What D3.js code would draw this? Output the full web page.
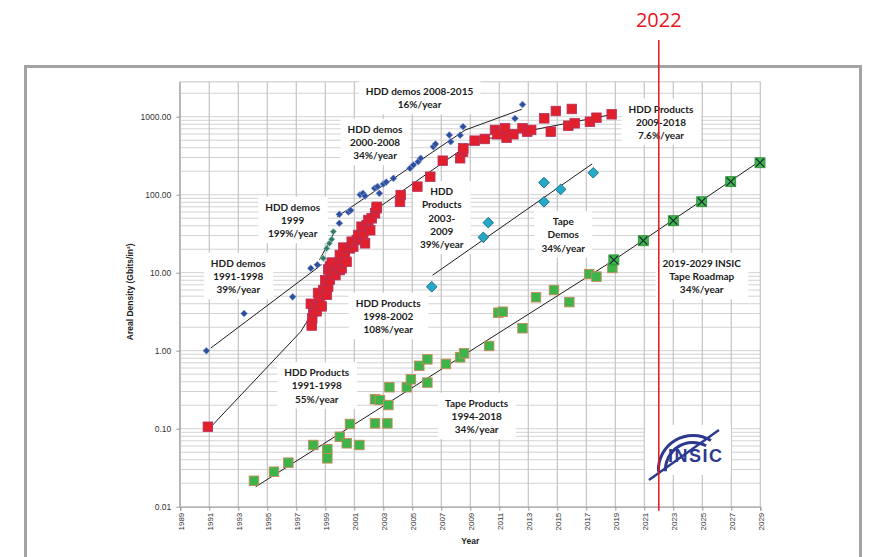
<!DOCTYPE html>
<html><head><meta charset="utf-8">
<script src="https://cdn.jsdelivr.net/npm/d3@7"></script>
<style>body{margin:0;background:#fff} svg{display:block}</style>
</head><body><svg id="c" width="869" height="557"></svg>
<script>
// ---------------- data ----------------
const xTickYears = d3.range(1989, 2030, 2);
const yTickValues = [0.01, 0.1, 1, 10, 100, 1000];
const yTickLabels = ["0.01", "0.10", "1.00", "10.00", "100.00", "1000.00"];
const markerYear = 2022;

const hddDemos = [[1990.8,1.0],[1993.4,3.0],[1996.75,4.9],[1998.0,11.4],[1998.45,12.6],[1999.97,43],[1999.97,56],
  [2000.6,60],[2000.75,63],[2001.4,100],[2001.6,104],[2001.74,96],[2002.4,121],[2002.6,127],[2002.73,104],[2003.0,137],
  [2003.2,145],[2003.7,162],[2004.84,218],[2005.07,240],[2005.4,265],[2005.58,293],[2006.45,412],[2006.6,447],
  [2007.55,582],[2007.65,479],[2008.3,580],[2008.5,745],[2012.08,950],[2012.6,1430]];
const hddDemos1999 = [[1998.86,15.3],[1999.1,20.5],[1999.28,23.8],[1999.44,26.8],[1999.55,33.6]];
const hddProducts = [[1990.9,0.106],
  [1998.06,2.1],[1998.1,2.6],[1998.17,3.2],[1998.0,4.0],[1998.3,3.7],[1998.4,3.2],[1998.6,4.7],[1998.75,3.7],
  [1998.5,5.5],[1998.86,6.0],[1999.1,5.2],[1999.2,6.6],[1999.0,8.0],[1999.3,8.1],[1999.4,9.4],[1999.2,11],
  [1999.32,12],[1999.55,10.8],[1999.7,9.3],[1999.44,13.5],[2000.0,10.8],[2000.13,11.4],[1999.9,13.2],[2000.1,14.6],
  [2000.0,16.9],[2000.36,17.7],[2000.24,21],[2000.7,20.5],[2000.93,21.6],[2000.82,25],[2001.17,26.3],[2001.39,27.6],
  [2001.28,30.4],[2001.62,32],[2001.5,38.9],[2001.85,40.9],[2001.97,47.4],[2002.2,49.8],[2002.43,57.7],[2002.54,66.9],
  [2002.1,35],[2001.74,23.8],[2000.47,13.8],
  [2002.55,70],[2004.15,81],[2004.2,99],[2005.35,127],[2006.24,170],[2007.1,273],[2008.3,293],[2008.5,356],
  [2008.52,393],[2009.3,493],[2010.0,518],[2010.7,676],[2010.86,595],[2011.4,710],[2011.5,538],[2011.97,595],
  [2012.6,710],[2012.93,643],[2013.2,676],[2014.1,953],[2014.55,643],[2014.9,1183],[2015.76,767],[2016.0,1257],
  [2016.2,823],[2017.25,863],[2017.7,971],[2018.75,1073]];
const tapeDemos = [[2006.34,6.6],[2009.9,28.4],[2010.24,43.8],[2014.08,143],[2014.08,81],[2015.23,117],[2017.48,191]];
const tapeProducts = [[1994.08,0.0215],[1995.46,0.0281],[1996.45,0.0367],[1998.17,0.0618],[1999.14,0.0545],
  [1999.14,0.0417],[2000.0,0.0789],[2000.48,0.065],[2000.7,0.115],[2001.35,0.0618],[2002.43,0.238],[2002.77,0.233],
  [2002.43,0.117],[2003.28,0.117],[2003.35,0.201],[2003.42,0.34],[2004.62,0.34],[2004.9,0.43],[2005.48,0.64],
  [2006.04,0.775],[2006.04,0.39],[2007.32,0.676],[2008.3,0.822],[2008.57,0.927],[2010.3,1.15],[2010.93,3.07],
  [2011.24,3.16],[2012.6,1.94],[2013.53,4.84],[2014.77,6.0],[2015.83,4.2],[2017.2,9.6],[2017.7,8.9],[2018.8,11.5]];
const roadmapYears = [2018.9, 2020.93, 2023.0, 2024.96, 2026.96, 2028.98];
const roadmapValues = [14.6, 25.7, 46.4, 81.3, 147, 257];

const trendDemos9198 = [[1991.1,1.08],[1998.75,12.7]];
const trendDemos1999 = [[1998.6,14.6],[1999.7,35]];
const trendDemos0008 = [[1999.8,52],[2008.64,674]];
const trendDemos0815 = [[2008.64,674],[2012.55,1245]];
const trendProd9198 = [[1991.2,0.11],[1997.3,1.75]];
const trendProd9802 = [[1997.3,1.75],[2002.66,70]];
const trendProd0309 = [[2002.5,65],[2009.2,480]];
const trendProd0918 = [[2009.2,480],[2018.8,1070]];
const trendTapeDemos = [[2006.4,9.3],[2017.4,248]];
const trendTapeProd = [[1994.2,0.018],[2018.9,14.5]];
const trendRoadmap = [[2018.9,14.5],[2029.1,280]];

const annotationTexts = [
  ["HDD demos 2008-2015","16%/year"],
  ["HDD demos","2000-2008","34%/year"],
  ["HDD demos","1999","199%/year"],
  ["HDD demos","1991-1998","39%/year"],
  ["HDD Products","1998-2002","108%/year"],
  ["HDD Products","1991-1998","55%/year"],
  ["HDD","Products","2003-","2009","39%/year"],
  ["Tape","Demos","34%/year"],
  ["HDD Products","2009-2018","7.6%/year"],
  ["2019-2029 INSIC","Tape Roadmap","34%/year"],
  ["Tape Products","1994-2018","34%/year"]
];
const annotationAnchors = [[2005.5,2092],[2002.43,689],[1996.75,69],[1993.0,13.2],[2003.34,4.06],[1998.41,0.522],
  [2007.03,109],[2015.41,45],[2022.15,1255],[2024.96,13.2],[2009.44,0.212]];
const logoAnchor = [2023.94, 0.0519];

// ---------------- chart ----------------
const svg = d3.select("#c");
const x = d3.scaleLinear().domain([1989, 2029]).range([180.3, 760.3]);
const y = d3.scaleLog().domain([0.01, 1000]).range([506.7, 116.7]);
const yTopValue = 2800;
const plotTop = y(yTopValue), plotBottom = y(0.01), plotLeft = x(1989), plotRight = x(2029);

// outer frame
svg.append("rect").attr("x", 25.5).attr("y", 66.5).attr("width", 835).attr("height", 520)
  .attr("fill", "none").attr("stroke", "#a3a3a3").attr("stroke-width", 3);

// horizontal grid
const hVals = [];
[0.01, 0.1, 1, 10, 100, 1000].forEach(d => { for (let m = 1; m <= 9; m++) { const v = m * d; if (v <= yTopValue) hVals.push(v); } });
svg.append("g").selectAll("line").data(hVals).join("line")
  .attr("x1", plotLeft).attr("x2", plotRight).attr("y1", d => y(d)).attr("y2", d => y(d))
  .attr("stroke", "#d2d2d2").attr("stroke-width", 1);
svg.append("line").attr("x1", plotLeft).attr("x2", plotRight).attr("y1", plotTop).attr("y2", plotTop).attr("stroke", "#c4c4c4");
// vertical grid
svg.append("g").selectAll("line").data(xTickYears).join("line")
  .attr("x1", d => x(d)).attr("x2", d => x(d)).attr("y1", plotTop).attr("y2", plotBottom)
  .attr("stroke", "#c4c4c4").attr("stroke-width", 1.2);

// axes
const xAxis = svg.append("g").attr("transform", `translate(0,${plotBottom})`)
  .call(d3.axisBottom(x).tickValues(xTickYears).tickSize(4).tickFormat(d3.format("d")));
xAxis.select(".domain").attr("stroke", "#9a9a9a");
xAxis.selectAll(".tick line").attr("stroke", "#9a9a9a");
xAxis.selectAll("text").attr("transform", "rotate(-90)").attr("text-anchor", "end")
  .attr("x", -6).attr("y", 0).attr("dy", "0.35em")
  .attr("font-family", "'Liberation Sans', Arial, sans-serif").attr("font-size", 8).attr("fill", "#333");

const yAxis = svg.append("g").attr("transform", `translate(${plotLeft},0)`)
  .call(d3.axisLeft(y).tickValues(yTickValues).tickSize(4).tickFormat((d, i) => yTickLabels[i]));
yAxis.select(".domain").attr("stroke", "#9a9a9a").attr("d", `M-0.5,${plotBottom}V${plotTop}`);
yAxis.selectAll(".tick line").attr("stroke", "#9a9a9a");
yAxis.selectAll("text").attr("x", -9)
  .attr("font-family", "'Liberation Sans', Arial, sans-serif").attr("font-size", 8.5).attr("fill", "#333");

svg.append("text").attr("x", (plotLeft + plotRight) / 2).attr("y", 544).attr("text-anchor", "middle")
  .attr("font-family", "'Liberation Sans Narrow', 'Liberation Sans', Arial, sans-serif").attr("font-weight", "bold")
  .attr("font-size", 8.5).attr("fill", "#222").text("Year");
svg.append("text").attr("transform", `translate(133,${y(5.7)}) rotate(-90)`).attr("text-anchor", "middle")
  .attr("font-family", "'Liberation Sans Narrow', 'Liberation Sans', Arial, sans-serif").attr("font-weight", "bold")
  .attr("font-size", 8.5).attr("fill", "#222")
  .text("Areal Density (Gbits/in\u00b2)");

// annotation label backgrounds + text
const labelFont = "Lato, 'Open Sans', sans-serif";
const lineH = 13.2;
const annG = svg.append("g");
annotationTexts.forEach((lines, i) => {
  const cx = x(annotationAnchors[i][0]), cy = y(annotationAnchors[i][1]);
  const g = annG.append("g");
  const bg = g.append("rect").attr("fill", "#fff");
  const t = g.append("text").attr("text-anchor", "middle").attr("font-family", labelFont)
    .attr("font-weight", "bold").attr("font-size", 10).attr("fill", "#1c1c1c");
  lines.forEach((s, j) => t.append("tspan").attr("x", cx).attr("y", cy + j * lineH).attr("dy", "0.35em").text(s));
  const bb = t.node().getBBox();
  bg.attr("x", bb.x - 7).attr("y", bb.y - 4).attr("width", bb.width + 14).attr("height", bb.height + 8);
});

// trend lines
const lineGen = d3.line().x(d => x(d[0])).y(d => y(d[1]));
[trendDemos9198, trendDemos1999, trendDemos0008, trendDemos0815, trendProd9198, trendProd9802,
 trendProd0309, trendProd0918, trendTapeDemos, trendTapeProd, trendRoadmap].forEach(t => {
  svg.append("path").attr("d", lineGen(t)).attr("fill", "none").attr("stroke", "#1e1e1e").attr("stroke-width", 1);
});

// markers
function squares(data, side, fill, stroke, sw) {
  svg.append("g").selectAll("rect").data(data).join("rect")
    .attr("x", d => x(d[0]) - side / 2).attr("y", d => y(d[1]) - side / 2)
    .attr("width", side).attr("height", side)
    .attr("fill", fill).attr("stroke", stroke).attr("stroke-width", sw);
}
function diamonds(data, side, fill, stroke, sw) {
  svg.append("g").selectAll("rect").data(data).join("rect")
    .attr("x", -side / 2).attr("y", -side / 2).attr("width", side).attr("height", side)
    .attr("transform", d => `translate(${x(d[0])},${y(d[1])}) rotate(45)`)
    .attr("fill", fill).attr("stroke", stroke).attr("stroke-width", sw);
}
squares(tapeProducts, 9.5, "#3cb44a", "#c88a5c", 0.9);
squares(hddProducts, 9.5, "#e2202c", "#b2305e", 0.8);
diamonds(hddDemos, 5, "#2d4f9e", "#9fb2dd", 0.6);
diamonds(hddDemos1999, 4.5, "#2f7d6a", "#9fd0c0", 0.6);
diamonds(tapeDemos, 7.5, "#26a8c8", "#166f86", 0.9);

const roadmap = roadmapYears.map((yr, i) => [yr, roadmapValues[i]]);
const rg = svg.append("g").selectAll("g").data(roadmap).join("g")
  .attr("transform", d => `translate(${x(d[0])},${y(d[1])})`);
rg.append("rect").attr("x", -5).attr("y", -5).attr("width", 10).attr("height", 10)
  .attr("fill", "#3cb44a").attr("stroke", "#2a8a36").attr("stroke-width", 0.8);
rg.append("path").attr("d", "M-4,-4L4,4M-4,4L4,-4").attr("stroke", "#123").attr("stroke-width", 1.1);

// INSIC logo
const lx = x(logoAnchor[0]), ly = y(logoAnchor[1]);
const logo = svg.append("g").attr("transform", `translate(${lx},${ly})`);
logo.append("rect").attr("x", -42).attr("y", -26).attr("width", 86).attr("height", 50).attr("fill", "#fff");
const arc = d3.arc();
logo.append("path").attr("transform", "translate(6,19)")
  .attr("d", arc({innerRadius: 33, outerRadius: 36, startAngle: -1.62, endAngle: 0.55})).attr("fill", "#2b3a8f");
logo.append("path").attr("transform", "translate(6,19)")
  .attr("d", arc({innerRadius: 26, outerRadius: 29, startAngle: -1.62, endAngle: 0.5})).attr("fill", "#2b3a8f");
logo.append("line").attr("x1", -38).attr("y1", 29).attr("x2", 32).attr("y2", -21)
  .attr("stroke", "#2b3a8f").attr("stroke-width", 2.4);
logo.append("text").attr("x", -19).attr("y", 11).attr("font-family", "'Liberation Sans', Arial, sans-serif")
  .attr("font-weight", "bold").attr("font-size", 18).attr("letter-spacing", 1.5).attr("fill", "#2b3a8f").text("INSIC");

// 2022 marker
svg.append("line").attr("x1", x(markerYear)).attr("x2", x(markerYear)).attr("y1", 40).attr("y2", plotBottom + 4)
  .attr("stroke", "#e8141b").attr("stroke-width", 1.5);
svg.append("text").attr("x", x(markerYear)).attr("y", 27).attr("text-anchor", "middle")
  .attr("font-family", "'Open Sans', 'Liberation Sans', sans-serif").attr("font-size", 20)
  .attr("fill", "#e8141b").text(String(markerYear));
</script></body></html>
